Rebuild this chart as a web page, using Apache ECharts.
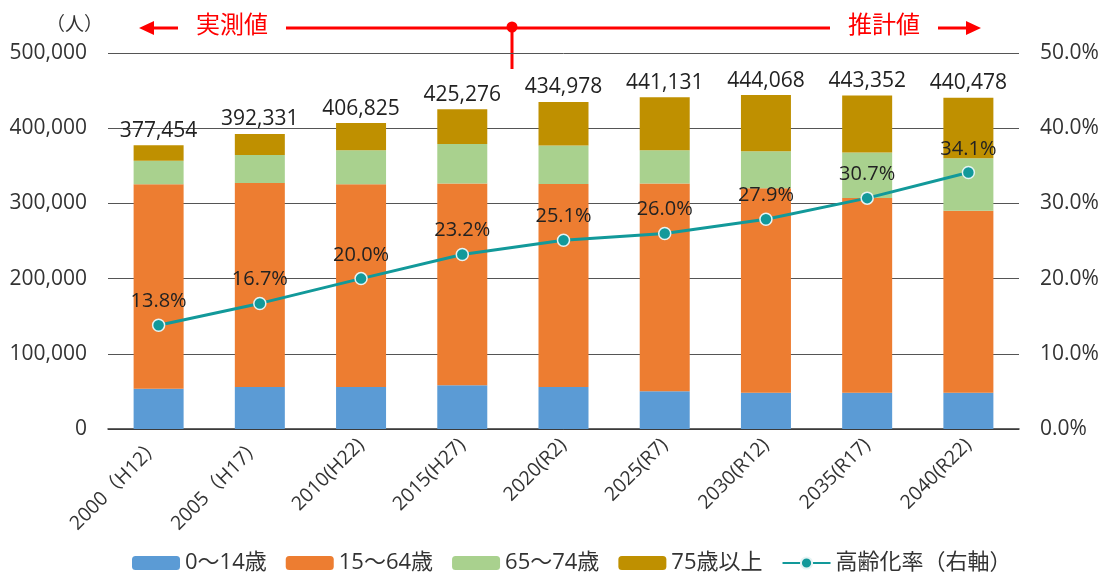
<!DOCTYPE html>
<html>
<head>
<meta charset="utf-8">
<script src="https://cdn.jsdelivr.net/npm/echarts@6/dist/echarts.min.js"></script>
<style>html,body{margin:0;padding:0;background:#fff;}#c{width:1105px;height:580px;}</style>
</head>
<body>
<div id="c"></div>
<script>
const categories = ['2000（H12）','2005（H17）','2010(H22)','2015(H27)','2020(R2)','2025(R7)','2030(R12)','2035(R17)','2040(R22)'];
const age0to14 = [53400, 56000, 56000, 58200, 56000, 50200, 48100, 48100, 48100];
const age15to64 = [272200, 271000, 269460, 268400, 269800, 276200, 272100, 259100, 242200];
const age65to74 = [31000, 37500, 45300, 52500, 51200, 44400, 49200, 60400, 69900];
const age75plus = [20854, 27831, 36065, 46176, 57978, 70331, 74668, 75752, 80278];
const totals = [377454, 392331, 406825, 425276, 434978, 441131, 444068, 443352, 440478];
const agingRate = [13.8, 16.7, 20.0, 23.2, 25.1, 26.0, 27.9, 30.7, 34.1];
const seriesNames = ['0～14歳','15～64歳','65～74歳','75歳以上','高齢化率（右軸）'];

const FONT = "'Open Sans', 'Noto Sans CJK JP', sans-serif";
const RED = '#FF0000';
const chart = echarts.init(document.getElementById('c'));
const barBase = {type: 'bar', stack: 'pop', barWidth: 50, yAxisIndex: 0};

chart.setOption({
  animation: false,
  textStyle: {fontFamily: FONT},
  grid: {left: 108, right: 86, top: 53, bottom: 151, containLabel: false},
  legend: {
    bottom: 1, left: 127, itemWidth: 48, itemHeight: 14, itemGap: 19,
    textStyle: {fontSize: 22, color: '#333', fontFamily: FONT},
    data: seriesNames
  },
  xAxis: {
    type: 'category', data: categories,
    axisLine: {lineStyle: {color: '#333', width: 1.5}},
    axisTick: {show: false},
    axisLabel: {rotate: 45, fontSize: 19.5, color: '#333', margin: 13, interval: 0, fontFamily: FONT}
  },
  yAxis: [
    {type: 'value', min: 0, max: 500000, interval: 100000,
     axisLine: {show: false}, axisTick: {show: false},
     splitLine: {lineStyle: {color: '#555', width: 1}},
     axisLabel: {fontSize: 21, color: '#333', margin: 21, fontFamily: FONT,
       formatter: v => v.toLocaleString('en-US')}},
    {type: 'value', min: 0, max: 50, interval: 10, position: 'right',
     axisLine: {show: false}, axisTick: {show: false}, splitLine: {show: false},
     axisLabel: {fontSize: 21, color: '#333', margin: 21, fontFamily: FONT,
       formatter: v => v.toFixed(1) + '%'}}
  ],
  series: [
    Object.assign({}, barBase, {name: seriesNames[0], data: age0to14, itemStyle: {color: '#5B9BD5'}}),
    Object.assign({}, barBase, {name: seriesNames[1], data: age15to64, itemStyle: {color: '#ED7D31'}}),
    Object.assign({}, barBase, {name: seriesNames[2], data: age65to74, itemStyle: {color: '#A9D18E'}}),
    Object.assign({}, barBase, {name: seriesNames[3], data: age75plus, itemStyle: {color: '#BF9000'},
      label: {show: true, position: 'top', distance: 4, fontSize: 21, color: '#222', fontFamily: FONT,
        formatter: p => totals[p.dataIndex].toLocaleString('en-US')}}),
    {name: seriesNames[4], type: 'line', yAxisIndex: 1, data: agingRate,
     symbol: 'circle', symbolSize: 12,
     lineStyle: {color: '#12999A', width: 3},
     itemStyle: {color: '#12999A', borderColor: '#E6F4F4', borderWidth: 1.5},
     label: {show: true, position: 'top', distance: 7, fontSize: 20, color: '#222', fontFamily: FONT,
       formatter: p => p.value.toFixed(1) + '%'},
     z: 5}
  ],
  graphic: [
    {type: 'text', left: 46, top: 16, style: {text: '（人）', fontSize: 19, fill: '#333', fontFamily: FONT}},
    {type: 'line', shape: {x1: 150, y1: 28, x2: 178, y2: 28}, style: {stroke: RED, lineWidth: 3}},
    {type: 'polygon', shape: {points: [[139, 28], [154, 21], [154, 35]]}, style: {fill: RED}},
    {type: 'text', left: 196, top: 14, style: {text: '実測値', fontSize: 24, fill: RED, fontFamily: FONT}},
    {type: 'line', shape: {x1: 286, y1: 28, x2: 830, y2: 28}, style: {stroke: RED, lineWidth: 3}},
    {type: 'line', shape: {x1: 512, y1: 28, x2: 512, y2: 69}, style: {stroke: RED, lineWidth: 3}},
    {type: 'circle', shape: {cx: 512, cy: 27, r: 5.5}, style: {fill: RED}},
    {type: 'text', left: 848, top: 14, style: {text: '推計値', fontSize: 24, fill: RED, fontFamily: FONT}},
    {type: 'line', shape: {x1: 938, y1: 28, x2: 968, y2: 28}, style: {stroke: RED, lineWidth: 3}},
    {type: 'polygon', shape: {points: [[981, 28], [966, 21], [966, 35]]}, style: {fill: RED}}
  ]
});
</script>
</body>
</html>
